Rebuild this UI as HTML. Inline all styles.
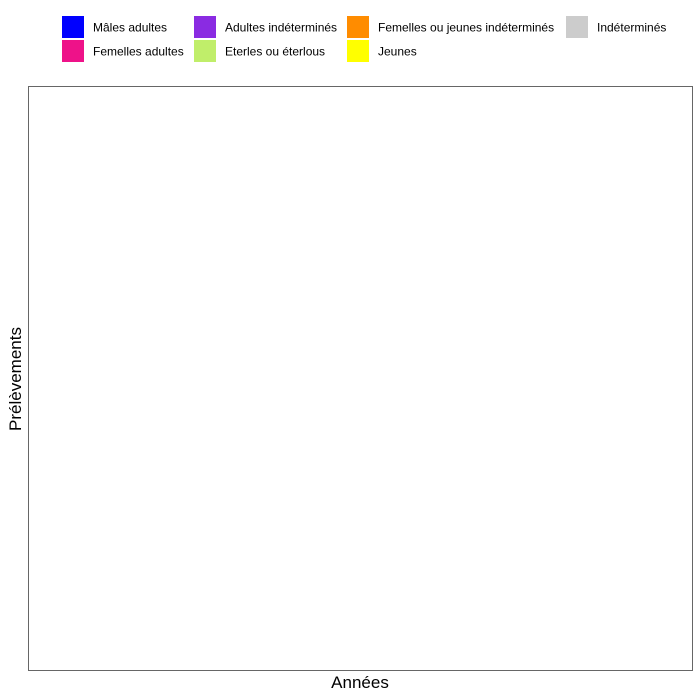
<!DOCTYPE html>
<html><head><meta charset="utf-8"><style>
body{margin:0;background:#fff;}
svg{display:block;font-family:"Liberation Sans",sans-serif;}
</style></head><body>
<svg width="700" height="700">
<rect x="0" y="0" width="700" height="700" fill="#fff"/>
<rect x="28.5" y="86.5" width="664" height="584" fill="#fff" stroke="#666" stroke-width="1"/>
<text x="360" y="688" text-anchor="middle" font-size="17" fill="#000">Années</text>
<text transform="translate(21,379) rotate(-90)" text-anchor="middle" font-size="17" fill="#000">Prélèvements</text>
<g id="legend"></g>
</svg>
<script>
const legendLabels=["Mâles adultes","Femelles adultes","Adultes indéterminés","Eterles ou éterlous","Femelles ou jeunes indéterminés","Jeunes","Indéterminés"];
const legendColors=["#0000FF","#EE1289","#8A2BE2","#C0EE6A","#FF8C00","#FFFF00","#CCCCCC"];
const categories=[];
const values=[];
const colX=[62,194,347,566];
const g=document.getElementById('legend');
const NS="http://www.w3.org/2000/svg";
legendLabels.forEach((lab,i)=>{
  const c=Math.floor(i/2), r=i%2;
  const x=colX[c], y=16+r*24;
  const rect=document.createElementNS(NS,'rect');
  rect.setAttribute('x',x);rect.setAttribute('y',y);rect.setAttribute('width',22);rect.setAttribute('height',22);
  rect.setAttribute('fill',legendColors[i]);
  
  
  g.appendChild(rect);
  const t=document.createElementNS(NS,'text');
  t.setAttribute('x',x+31);t.setAttribute('y',y+15.5);t.setAttribute('font-size','12');
  t.textContent=lab;
  
  
  g.appendChild(t);
});
</script>
</body></html>
